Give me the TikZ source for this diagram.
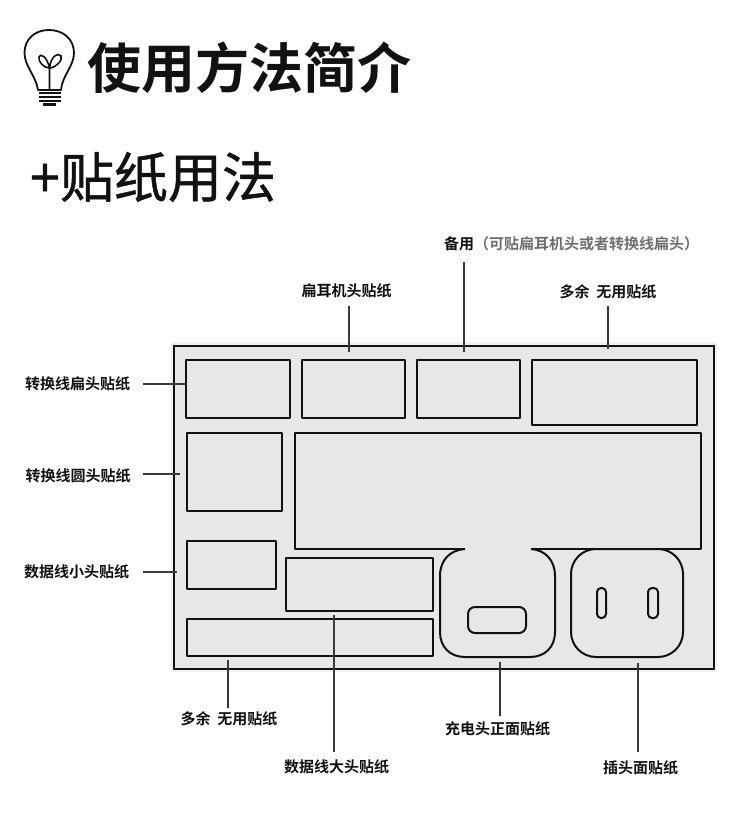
\documentclass[tikz,border=0pt]{standalone}
\usepackage{fontspec}
\setmainfont{Noto Sans CJK SC}[BoldFont={Noto Sans CJK SC Bold}]
\newfontfamily\headfont{Noto Sans CJK SC}[FakeBold=0.9]
\definecolor{sheet}{HTML}{E7E7E7}
\definecolor{halo}{HTML}{F1F1F1}
\definecolor{leadline}{HTML}{3A3A3A}
\definecolor{inkdark}{HTML}{111111}
\definecolor{note}{HTML}{6E6E6E}
\newcommand{\leadR}[2]{%
  \draw[draw=leadline, line width=1.5pt] (#1) -- (#2);%
}
\newcommand{\sticker}[6]{%
  \node[#1, minimum width=#5pt-#3pt, minimum height=#6pt-#4pt] (#2) at ({(#3+#5)/2}, {(#4+#6)/2}) {};%
}

\begin{document}
\begin{tikzpicture}[
  x=1pt,
  y=-1pt,
  every node/.style={inner sep=0pt, outer sep=0pt, align=center},
  label/.style={font=\bfseries\fontsize{15}{17}\selectfont, text=inkdark},
  cut/.style={draw=inkdark, line width=2pt, line join=round},
  box/.style={cut, rectangle},
  round/.style={cut, rectangle, rounded corners=25pt},
  slot/.style={cut, rectangle, rounded corners=4pt}
]
  \useasboundingbox (0,0) rectangle (750,826);

  % Headings.
  \node[font=\bfseries\fontsize{54}{60}\selectfont, text=inkdark, anchor=west] (title) at (87, 68) {使用方法简介};
  \node[font=\headfont\fontsize{54}{60}\selectfont, text=inkdark, anchor=west] (subtitle) at (30, 177) {+贴纸用法};

  % Bulb icon.
  \draw[draw=inkdark, line width=1.8pt, line join=round]
    (38, 90) .. controls (36, 76) and (24.5, 66) .. (24.5, 53)
    .. controls (24.5, 39) and (35, 30) .. (49, 30)
    .. controls (63, 30) and (74, 39) .. (74, 53)
    .. controls (74, 66) and (62, 76) .. (61, 90) -- cycle;
  \draw[draw=inkdark, line width=1.6pt]
    (49.5, 90) -- (49.5, 68)
    .. controls (44, 68) and (38, 62) .. (39, 57)
    .. controls (40, 53) and (47, 56) .. (49.5, 68)
    .. controls (51, 56) and (58, 52) .. (61, 56)
    .. controls (63, 60) and (56, 68) .. (49.5, 68);
  \foreach \yy in {93, 97, 101} {
    \draw[draw=inkdark, line width=2pt] (39, \yy) -- (61, \yy);
  }
  \draw[draw=inkdark, line width=2.4pt] (43, 104.5) -- (56, 104.5);

  % Sticker sheet.
  \node[draw=halo, line width=3pt, minimum width=543pt, minimum height=327pt] (edge) at (444, 507) {};
  \node[draw=inkdark, fill=sheet, line width=1.8pt, minimum width=540pt, minimum height=323pt] (sheet) at (444, 507.5) {};

  % Top row and left column.
  \sticker{box}{flatA}{186}{360}{290}{418}
  \sticker{box}{flatB}{302}{360}{405}{418}
  \sticker{box}{flatC}{417}{360}{520}{418}
  \sticker{box}{spareA}{532}{360}{697}{425}
  \sticker{box}{roundA}{187}{433}{282}{511}
  \sticker{box}{smallA}{187}{541}{276}{589}
  \sticker{box}{largeA}{286}{558}{433}{611}
  \sticker{box}{spareB}{187}{619}{433}{656}

  % Large panel running into the charger face.
  \draw[cut] (465, 549) .. controls (450, 550) and (440, 560) .. (440, 576)
    -- (440, 632) .. controls (440, 647) and (450, 657) .. (465, 657)
    -- (530, 657) .. controls (545, 657) and (555, 647) .. (555, 632)
    -- (555, 576) .. controls (555, 560) and (545, 550) .. (531, 549);
  \draw[cut] (465, 549) -- (295, 549) -- (295, 433) -- (701, 433) -- (701, 549) -- (531, 549);

  % Plug face and holes.
  \sticker{round}{plug}{571}{549}{683}{657}
  \sticker{slot, rounded corners=7pt}{port}{468}{607}{526}{633}
  \sticker{slot}{pinL}{597}{588}{606}{618}
  \sticker{slot}{pinR}{648}{588}{658}{618}

  % Labels.
  \node[label] (lflat) at (77.5, 384) {转换线扁头贴纸};
  \node[label] (lround) at (78, 476) {转换线圆头贴纸};
  \node[label] (lsmall) at (76.5, 572) {数据线小头贴纸};
  \node[label] (lear) at (346.5, 291) {扁耳机头贴纸};
  \node[label, anchor=west] (lspare) at (444, 244) {备用{\color{note}（可贴扁耳机头或者转换线扁头）}};
  \node[label] (lextraA) at (608, 292) {多余\ \ 无用贴纸};
  \node[label] (lextraB) at (229, 719) {多余\ \ 无用贴纸};
  \node[label] (llarge) at (336.5, 767) {数据线大头贴纸};
  \node[label] (lcharger) at (497.5, 729) {充电头正面贴纸};
  \node[label] (lplug) at (640.5, 768) {插头面贴纸};

  % Leader ends.
  \coordinate (a1) at (143, 384);   \coordinate (a2) at (185, 384);
  \coordinate (b1) at (143, 474);   \coordinate (b2) at (180, 474);
  \coordinate (c1) at (143, 572);   \coordinate (c2) at (177, 572);
  \coordinate (d1) at (349, 306);   \coordinate (d2) at (349, 352);
  \coordinate (e1) at (464, 262);   \coordinate (e2) at (464, 352);
  \coordinate (f1) at (608, 306);   \coordinate (f2) at (608, 349);
  \coordinate (g1) at (228, 660);   \coordinate (g2) at (228, 708);
  \coordinate (h1) at (334, 615);   \coordinate (h2) at (334, 752);
  \coordinate (i1) at (500, 662);   \coordinate (i2) at (500, 716);
  \coordinate (j1) at (638, 663);   \coordinate (j2) at (638, 752);

  % Leaders.
  \leadR{a1}{a2}
  \leadR{b1}{b2}
  \leadR{c1}{c2}
  \leadR{d1}{d2}
  \leadR{e1}{e2}
  \leadR{f1}{f2}
  \leadR{g1}{g2}
  \leadR{h1}{h2}
  \leadR{i1}{i2}
  \leadR{j1}{j2}
\end{tikzpicture}
\end{document}
